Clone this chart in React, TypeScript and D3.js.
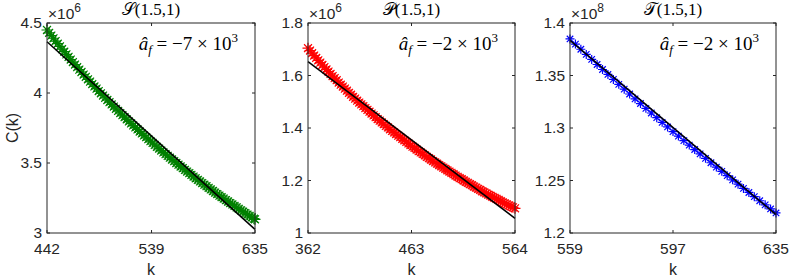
import * as d3 from 'd3';
import React from 'react';

const kS = d3.range(442, 635, 2).concat([635]);
const cS = [
  4.450, 4.430, 4.410, 4.391, 4.371, 4.352, 4.333, 4.314, 4.295, 4.276,
  4.258, 4.239, 4.221, 4.203, 4.185, 4.167, 4.150, 4.132, 4.115, 4.098,
  4.081, 4.064, 4.047, 4.031, 4.014, 3.998, 3.982, 3.966, 3.950, 3.934,
  3.918, 3.903, 3.887, 3.872, 3.857, 3.842, 3.827, 3.812, 3.797, 3.783,
  3.768, 3.754, 3.740, 3.725, 3.711, 3.697, 3.684, 3.670, 3.656, 3.643,
  3.629, 3.616, 3.603, 3.589, 3.576, 3.563, 3.551, 3.538, 3.525, 3.513,
  3.500, 3.488, 3.475, 3.463, 3.451, 3.439, 3.427, 3.415, 3.403, 3.391,
  3.380, 3.368, 3.357, 3.345, 3.334, 3.323, 3.311, 3.300, 3.289, 3.278,
  3.267, 3.257, 3.246, 3.235, 3.225, 3.214, 3.204, 3.193, 3.183, 3.173,
  3.162, 3.152, 3.142, 3.132, 3.122, 3.112, 3.102, 3.098];

const kP = d3.range(362, 564, 2).concat([564]);
const cP = [
  1.704, 1.695, 1.685, 1.676, 1.667, 1.658, 1.649, 1.640, 1.632, 1.623,
  1.615, 1.606, 1.598, 1.590, 1.582, 1.573, 1.565, 1.558, 1.550, 1.542,
  1.534, 1.527, 1.519, 1.512, 1.504, 1.497, 1.490, 1.483, 1.476, 1.469,
  1.462, 1.455, 1.448, 1.441, 1.434, 1.428, 1.421, 1.415, 1.408, 1.402,
  1.395, 1.389, 1.383, 1.377, 1.371, 1.365, 1.359, 1.353, 1.347, 1.341,
  1.335, 1.329, 1.324, 1.318, 1.312, 1.307, 1.301, 1.296, 1.290, 1.285,
  1.280, 1.274, 1.269, 1.264, 1.259, 1.254, 1.249, 1.244, 1.239, 1.234,
  1.229, 1.224, 1.219, 1.214, 1.209, 1.205, 1.200, 1.195, 1.191, 1.186,
  1.182, 1.177, 1.173, 1.168, 1.164, 1.159, 1.155, 1.151, 1.146, 1.142,
  1.138, 1.134, 1.130, 1.126, 1.121, 1.117, 1.113, 1.109, 1.105, 1.101,
  1.098, 1.094];

const kT = d3.range(559, 636, 2);
const cT = [1.3848, 1.3799, 1.3750, 1.3701, 1.3653, 1.3605, 1.3557, 1.3510, 1.3463, 1.3416,
  1.3370, 1.3324, 1.3278, 1.3233, 1.3187, 1.3143, 1.3098, 1.3054, 1.3010, 1.2966,
  1.2923, 1.2880, 1.2837, 1.2795, 1.2753, 1.2711, 1.2669, 1.2628, 1.2587, 1.2546,
  1.2506, 1.2465, 1.2425, 1.2386, 1.2346, 1.2307, 1.2268, 1.2229, 1.2191];

// linear fits (endpoints)
const fitS = [4.366, 3.026];
const fitP = [1.653, 1.056];
const fitT = [1.3835, 1.2175];

const xTicksS = [442, 539, 635];
const xTicksP = [362, 463, 564];
const xTicksT = [559, 597, 635];
const yTicksS = [3, 3.5, 4, 4.5];
const yTicksP = [1, 1.2, 1.4, 1.6, 1.8];
const yTicksT = [1.2, 1.25, 1.3, 1.35, 1.4];

const panels = [
  { left: 47, right: 255, k: kS, c: cS, fit: fitS, xTicks: xTicksS, yTicks: yTicksS,
    color: '#008000', exp: '6', letter: '𝒮', coef: '7', ylabel: 'C(k)', mr: 5.5 },
  { left: 308, right: 515, k: kP, c: cP, fit: fitP, xTicks: xTicksP, yTicks: yTicksP,
    color: '#ff0000', exp: '6', letter: '𝒫', coef: '2', ylabel: '', mr: 5.5 },
  { left: 570, right: 776, k: kT, c: cT, fit: fitT, xTicks: xTicksT, yTicks: yTicksT,
    color: '#0000ff', exp: '8', letter: '𝒯', coef: '2', ylabel: '', mr: 4.5 },
];

const top = 23;
const bottom = 233;
const axisColor = '#262626';
const sans = '"Liberation Sans", Arial, Helvetica, sans-serif';
const serif = '"Liberation Serif", "DejaVu Serif", serif';

function asterisk(r) {
  const d = r * 0.72;
  return `M${-r},0L${r},0M0,${-r}L0,${r}M${-d},${-d}L${d},${d}M${-d},${d}L${d},${-d}`;
}

function Panel({ p }) {
  const x = d3.scaleLinear().domain([p.xTicks[0], p.xTicks[2]]).range([p.left, p.right]);
  const y = d3.scaleLinear()
    .domain([p.yTicks[0], p.yTicks[p.yTicks.length - 1]])
    .range([bottom, top]);
  const line = d3.line().x(d => x(d[0])).y(d => y(d[1]));
  const fitPts = [[p.xTicks[0], p.fit[0]], [p.xTicks[2], p.fit[1]]];
  const mid = (p.left + p.right) / 2;
  const tl = 3;
  const marker = asterisk(p.mr);

  return (
    <g>
      {p.k.map((k, i) => (
        <path key={i} d={marker} transform={`translate(${x(k)},${y(p.c[i])})`}
          stroke={p.color} strokeWidth={1.2} fill="none" />
      ))}
      <path d={line(fitPts)} stroke="#000" strokeWidth={1.5} fill="none" />
      <rect x={p.left} y={top} width={p.right - p.left} height={bottom - top}
        fill="none" stroke={axisColor} strokeWidth={1} />
      {p.xTicks.map(t => (
        <g key={'x' + t}>
          <line x1={x(t)} x2={x(t)} y1={bottom} y2={bottom - tl} stroke={axisColor} />
          <line x1={x(t)} x2={x(t)} y1={top} y2={top + tl} stroke={axisColor} />
          <text x={x(t)} y={254} textAnchor="middle" fontFamily={sans} fontSize={15.5}
            fill={axisColor}>{t}</text>
        </g>
      ))}
      {p.yTicks.map(t => (
        <g key={'y' + t}>
          <line x1={p.left} x2={p.left + tl} y1={y(t)} y2={y(t)} stroke={axisColor} />
          <line x1={p.right} x2={p.right - tl} y1={y(t)} y2={y(t)} stroke={axisColor} />
          <text x={p.left - 5} y={y(t)} dy="0.35em" textAnchor="end" fontFamily={sans}
            fontSize={15.5} fill={axisColor}>{d3.format('~g')(t)}</text>
        </g>
      ))}
      <text x={p.left + 1} y={19} fontFamily={sans} fontSize={15.5} fill={axisColor}>
        ×10<tspan dy={-7} fontSize={12}>{p.exp}</tspan>
      </text>
      <text x={mid} y={15} textAnchor="middle" fontFamily={serif} fontSize={17} fill="#000">
        {p.letter}(1.5,1)
      </text>
      <text x={p.right - 17} y={50} textAnchor="end" fontFamily={serif} fontSize={19} fill="#000">
        <tspan fontStyle="italic">â</tspan>
        <tspan fontStyle="italic" fontSize={13} dy={4}>f</tspan>
        <tspan dy={-4}> = −{p.coef} × 10</tspan>
        <tspan fontSize={13} dy={-8}>3</tspan>
      </text>
      <text x={mid} y={275} textAnchor="middle" fontFamily={sans} fontSize={16} fill={axisColor}>k</text>
      {p.ylabel && (
        <text transform={`translate(18,${(top + bottom) / 2}) rotate(-90)`} textAnchor="middle"
          fontFamily={sans} fontSize={16} fill={axisColor}>{p.ylabel}</text>
      )}
    </g>
  );
}

export default function App() {
  return (
    <svg width={789} height={278} style={{ position: 'absolute', left: 0, top: 0, background: '#fff' }}>
      <rect width={789} height={278} fill="#fff" />
      {panels.map((p, i) => <Panel key={i} p={p} />)}
    </svg>
  );
}
